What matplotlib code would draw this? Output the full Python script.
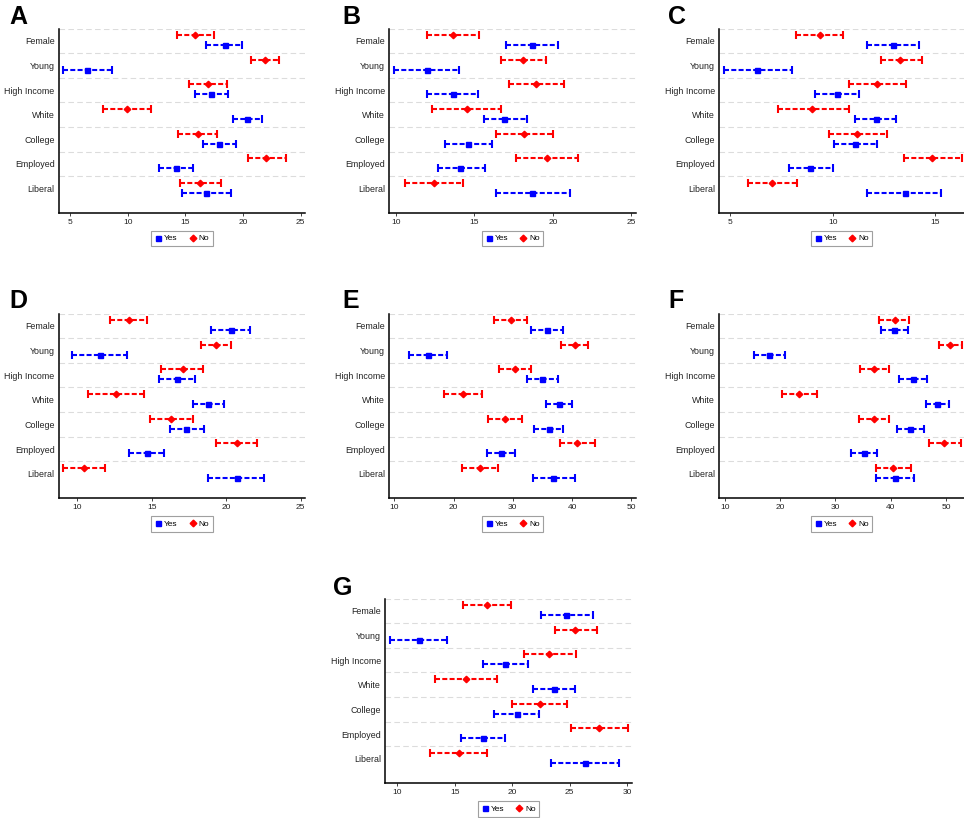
import matplotlib.pyplot as plt
from matplotlib.lines import Line2D

plt.rcParams['font.family'] = ['Liberation Sans', 'DejaVu Sans']

categories = ['Female', 'Young', 'High Income', 'White', 'College', 'Employed', 'Liberal']

# (low, estimate, high) per category, top to bottom
yes_A = [(16.8, 18.4, 19.95), (4.4, 6.5, 8.6), (15.8, 17.25, 18.7), (19.1, 20.35, 21.65),
         (16.5, 17.95, 19.35), (12.75, 14.2, 15.65), (14.7, 16.8, 19.0)]
no_A = [(14.3, 15.85, 17.45), (20.7, 21.9, 23.1), (15.35, 17.0, 18.65), (7.9, 9.95, 12.05),
        (14.4, 16.1, 17.75), (20.4, 22.0, 23.7), (14.5, 16.3, 18.1)]

yes_B = [(17.0, 18.7, 20.35), (9.85, 11.95, 14.0), (12.0, 13.6, 15.2), (15.6, 16.9, 18.35),
         (13.1, 14.6, 16.15), (12.65, 14.1, 15.65), (16.35, 18.7, 21.1)]
no_B = [(12.0, 13.65, 15.3), (16.7, 18.1, 19.55), (17.2, 18.95, 20.7), (12.3, 14.5, 16.7),
        (16.35, 18.15, 20.0), (17.65, 19.6, 21.6), (10.55, 12.4, 14.3)]

yes_C = [(11.65, 12.95, 14.2), (4.7, 6.3, 8.0), (9.15, 10.2, 11.3), (11.1, 12.1, 13.1),
         (10.05, 11.1, 12.15), (7.85, 8.9, 10.0), (11.65, 13.5, 15.3)]
no_C = [(8.2, 9.35, 10.5), (12.35, 13.3, 14.35), (10.8, 12.15, 13.55), (7.3, 9.0, 10.8),
        (9.8, 11.2, 12.65), (13.45, 14.85, 16.3), (5.85, 7.05, 8.25)]

yes_D = [(19.0, 20.35, 21.6), (9.65, 11.55, 13.35), (15.5, 16.7, 17.9), (17.8, 18.8, 19.85),
         (16.2, 17.3, 18.5), (13.45, 14.65, 15.85), (18.8, 20.7, 22.55)]
no_D = [(12.2, 13.45, 14.7), (18.3, 19.3, 20.3), (15.65, 17.1, 18.45), (10.75, 12.6, 14.5),
        (14.85, 16.3, 17.75), (19.3, 20.7, 22.1), (9.05, 10.45, 11.85)]

yes_E = [(33.1, 35.8, 38.5), (12.5, 15.75, 18.95), (32.45, 35.0, 37.6), (35.55, 37.85, 40.05),
         (33.5, 36.05, 38.5), (25.6, 27.95, 30.35), (33.35, 36.85, 40.5)]
no_E = [(26.9, 29.7, 32.45), (38.2, 40.45, 42.75), (27.6, 30.4, 33.1), (18.35, 21.65, 24.85),
        (25.9, 28.75, 31.55), (37.9, 40.85, 43.9), (21.35, 24.45, 27.55)]

yes_F = [(38.15, 40.6, 43.1), (15.25, 18.05, 20.95), (41.4, 44.0, 46.55), (46.35, 48.3, 50.5),
         (41.05, 43.5, 46.05), (32.85, 35.2, 37.55), (37.35, 40.75, 44.15)]
no_F = [(37.95, 40.7, 43.3), (48.7, 50.7, 52.85), (34.35, 37.0, 39.7), (20.4, 23.45, 26.65),
        (34.2, 37.0, 39.65), (46.8, 49.65, 52.65), (37.25, 40.4, 43.7)]

yes_G = [(22.55, 24.7, 27.0), (9.4, 11.9, 14.35), (17.45, 19.4, 21.4), (21.85, 23.65, 25.5),
         (18.45, 20.45, 22.35), (15.55, 17.45, 19.4), (23.4, 26.35, 29.35)]
no_G = [(15.75, 17.8, 19.9), (23.7, 25.5, 27.35), (21.05, 23.25, 25.55), (13.3, 16.0, 18.7),
        (20.0, 22.4, 24.8), (25.1, 27.6, 30.1), (12.85, 15.35, 17.8)]

W, H = 964, 818

# panel: (yes, no, axes box in pixels (left, top, right, bottom), xlim, xticks, letter x, letter baseline)
panels = {
    'A': (yes_A, no_A, (58.7, 28.5, 305.3, 213), (4.02, 25.4), [5, 10, 15, 20, 25], 9.3, 24),
    'B': (yes_B, no_B, (389.3, 28.5, 636, 213), (9.57, 25.3), [10, 15, 20, 25], 342.7, 24),
    'C': (yes_C, no_C, (719.3, 28.5, 964, 213), (4.46, 16.4), [5, 10, 15], 668.3, 24),
    'D': (yes_D, no_D, (58.7, 313.5, 305.3, 498.3), (8.75, 25.31), [10, 15, 20, 25], 9.3, 308.3),
    'E': (yes_E, no_E, (389.3, 313.5, 636, 498.3), (9.16, 50.8), [10, 20, 30, 40, 50], 342.7, 308.3),
    'F': (yes_F, no_F, (719.3, 313.5, 964, 498.3), (9.04, 53.2), [10, 20, 30, 40, 50], 668.3, 308.3),
    'G': (yes_G, no_G, (385.3, 598.5, 632, 783.3), (8.95, 30.44), [10, 15, 20, 25, 30], 333.3, 595.3),
}

fig = plt.figure(figsize=(W / 100, H / 100), dpi=100)

n = len(categories)
ypos = list(range(n, 0, -1))

for letter, (yes, no, box, xlim, xt, lx, ly) in panels.items():
    l, t, r, b = box
    ax = fig.add_axes([l / W, 1 - b / H, (r - l) / W, (b - t) / H])
    for k in range(n):
        ax.axhline(k + 1.5, color='#dcdcdc', lw=0.8, ls=(0, (5, 3)), zorder=0)
    for data, off, col, mk in [(no, 0.23, '#ff0000', 'D'), (yes, -0.175, '#0000ff', 's')]:
        lo = [d[0] for d in data]
        est = [d[1] for d in data]
        hi = [d[2] for d in data]
        err = [[e - a for e, a in zip(est, lo)], [h - e for h, e in zip(hi, est)]]
        eb = ax.errorbar(est, [y + off for y in ypos], xerr=err, fmt=mk, ms=3.6 if mk == 's' else 3.3,
                         color=col, ecolor=col, elinewidth=1.5, capsize=2.8, capthick=1.5, zorder=3)
        eb.lines[2][0].set_linestyle((0, (2.4, 1.1)))
    ax.set_xlim(*xlim)
    ax.set_ylim(0, 7.5)
    ax.set_xticks(xt)
    ax.set_yticks(ypos)
    ax.set_yticklabels(categories)
    for s in ['top', 'right']:
        ax.spines[s].set_visible(False)
    for s in ['left', 'bottom']:
        ax.spines[s].set_linewidth(1.1)
    ax.tick_params(axis='x', length=2, width=0.6, labelsize=6, pad=2, colors='#222222')
    ax.tick_params(axis='y', length=0, labelsize=6.4, pad=3, colors='#222222')
    handles = [Line2D([], [], marker='s', color='#0000ff', ls='none', ms=3.6),
               Line2D([], [], marker='D', color='#ff0000', ls='none', ms=3.4)]
    leg = ax.legend(handles, ['Yes', 'No'], loc='upper center', bbox_to_anchor=(0.5, -0.097),
                    ncol=2, fontsize=6, frameon=True, fancybox=False, edgecolor='#888888',
                    handlelength=0.8, handletextpad=0.3, columnspacing=1.4, borderpad=0.45,
                    borderaxespad=0)
    leg.get_frame().set_linewidth(0.8)
    fig.text(lx / W, 1 - ly / H, letter, fontsize=18, fontweight='bold', va='baseline', ha='left')

plt.savefig('out.png', dpi=100)
